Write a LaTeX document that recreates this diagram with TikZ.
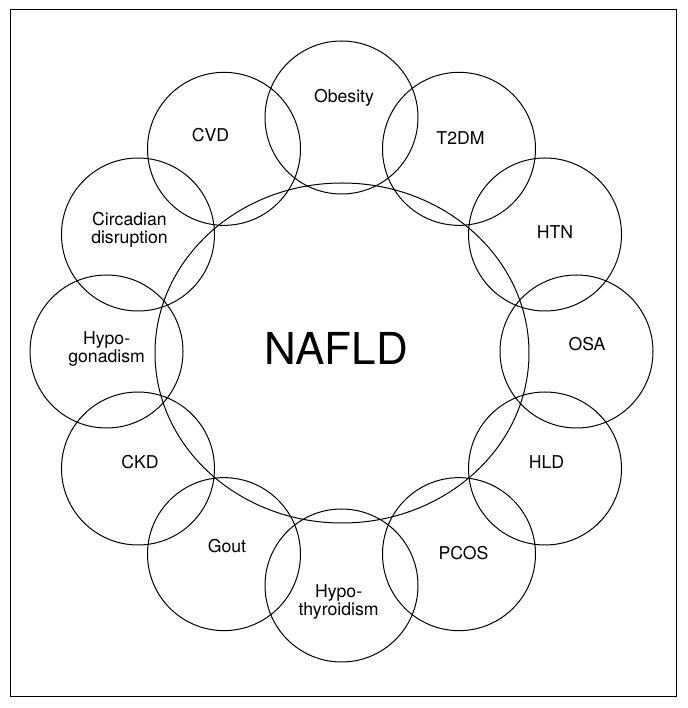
\documentclass[tikz,border=0pt]{standalone}
\usepackage{fontspec}
\setmainfont{TeX Gyre Heros}

\begin{document}
\begin{tikzpicture}[x=0.75pt, y=0.75pt,
    ring/.style = {line width=0.75pt},
    lab/.style = {font=\fontsize{13.25}{13.5}\selectfont, align=center, inner sep=0pt}]
  \useasboundingbox (0,0) rectangle (687,708);

  % Le cadre
  \draw[line width=0.75pt] (10,11) rectangle (676,698);

  % Le grand cercle
  \draw[ring] (342,355) ellipse [x radius=187, y radius=170];

  % Les petits cercles
  \foreach \a in {0,30,...,330}
    \draw[ring] ({341.5+235*cos(\a)},{356.5+234*sin(\a)}) circle [radius=76.5];

  % Les textes
  \node[font=\fontsize{33}{36}\selectfont, inner sep=0pt] (nafld) at (336,360) {NAFLD};
  \node[lab] (obesity) at (344,610) {Obesity};
  \node[lab] (tdm) at (460.5,570) {T2DM};
  \node[lab] (htn) at (555,476) {HTN};
  \node[lab] (osa) at (587,364) {OSA};
  \node[lab] (hld) at (546.5,246) {HLD};
  \node[lab] (pcos) at (463.5,155) {PCOS};
  \node[lab] (thyro) at (338.6,106) {Hypo-\\thyroidism};
  \node[lab] (gout) at (227,162) {Gout};
  \node[lab] (ckd) at (140,246) {CKD};
  \node[lab] (gonad) at (106.6,359) {Hypo-\\gonadism};
  \node[lab] (circa) at (129.5,478) {Circadian\\disruption};
  \node[lab] (cvd) at (210.6,573) {CVD};

\end{tikzpicture}
\end{document}
